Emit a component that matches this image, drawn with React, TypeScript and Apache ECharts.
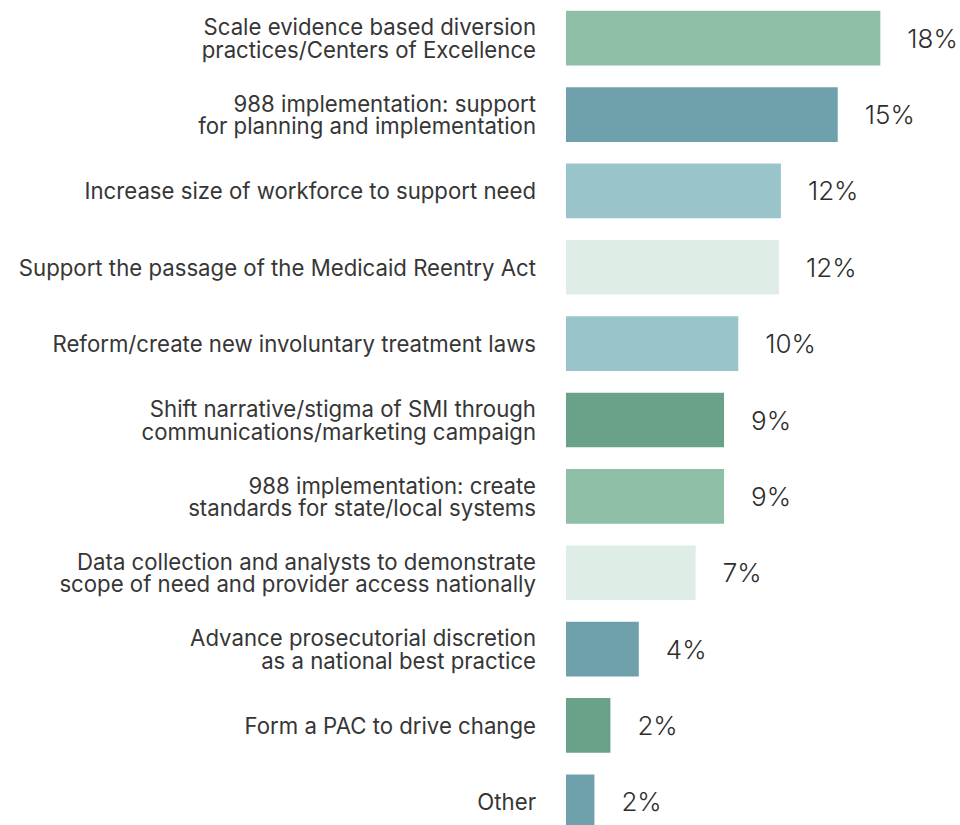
import React, { useEffect, useRef } from "react";
import * as echarts from "echarts";

const categories = [
  "Scale evidence based diversion\npractices/Centers of Excellence",
  "988 implementation: support\nfor planning and implementation",
  "Increase size of workforce to support need",
  "Support the passage of the Medicaid Reentry Act",
  "Reform/create new involuntary treatment laws",
  "Shift narrative/stigma of SMI through\ncommunications/marketing campaign",
  "988 implementation: create\nstandards for state/local systems",
  "Data collection and analysts to demonstrate\nscope of need and provider access nationally",
  "Advance prosecutorial discretion\nas a national best practice",
  "Form a PAC to drive change",
  "Other",
];

const values = [17.7, 15.3, 12.1, 12.0, 9.7, 8.9, 8.9, 7.3, 4.1, 2.5, 1.6];
const valueLabels = ["18%", "15%", "12%", "12%", "10%", "9%", "9%", "7%", "4%", "2%", "2%"];
const barColors = [
  "#90bfa8",
  "#6fa1ac",
  "#99c4ca",
  "#dfede7",
  "#99c4ca",
  "#6aa189",
  "#90bfa8",
  "#dfede7",
  "#6fa1ac",
  "#6aa189",
  "#6fa1ac",
];

export default function App() {
  const ref = useRef<HTMLDivElement>(null);
  useEffect(() => {
    if (!ref.current) return;
    const chart = echarts.init(ref.current, null, { renderer: "svg" });
    chart.setOption({
      animation: false,
      backgroundColor: "#ffffff",
      grid: { left: 566, top: 0, width: 355.2, height: 840, containLabel: false },
      xAxis: {
        type: "value",
        min: 0,
        max: 20,
        show: false,
      },
      yAxis: {
        type: "category",
        inverse: true,
        data: categories,
        axisLine: { show: false },
        axisTick: { show: false },
        splitLine: { show: false },
        axisLabel: {
          margin: 30,
          align: "right",
          fontFamily: "Inter",
          fontSize: 22.2,
          lineHeight: 22.5,
          color: "#363636",
        },
      },
      series: [
        {
          type: "bar",
          barCategoryGap: "28.4%",
          data: values.map((v, i) => ({
            value: v,
            itemStyle: { color: barColors[i] },
          })),
          label: {
            show: true,
            position: "right",
            distance: 27,
            fontFamily: "Inter",
            fontSize: 26,
            fontWeight: 300,
            color: "#2e2e2e",
            formatter: (p: any) => valueLabels[p.dataIndex],
          },
        },
      ],
    });
    return () => chart.dispose();
  }, []);
  return (
    <div
      style={{
        position: "absolute",
        left: 0,
        top: 0,
        width: 960,
        height: 825,
        overflow: "hidden",
        background: "#fff",
      }}
    >
      <div ref={ref} style={{ width: 960, height: 845 }} />
    </div>
  );
}
